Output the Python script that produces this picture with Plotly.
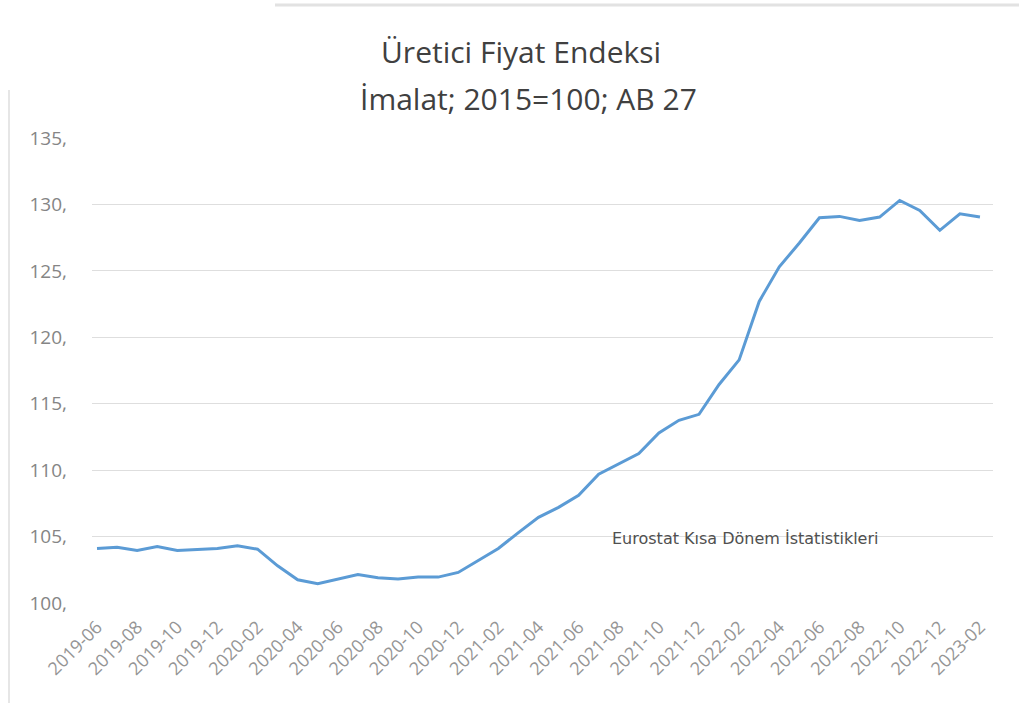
import plotly.graph_objects as go

months = ["2019-06","2019-07","2019-08","2019-09","2019-10","2019-11","2019-12",
          "2020-01","2020-02","2020-03","2020-04","2020-05","2020-06","2020-07",
          "2020-08","2020-09","2020-10","2020-11","2020-12","2021-01","2021-02",
          "2021-03","2021-04","2021-05","2021-06","2021-07","2021-08","2021-09",
          "2021-10","2021-11","2021-12","2022-01","2022-02","2022-03","2022-04",
          "2022-05","2022-06","2022-07","2022-08","2022-09","2022-10","2022-11",
          "2022-12","2023-01","2023-02"]
values = [104.1, 104.2, 103.95, 104.25, 103.95, 104.0, 104.1, 104.3, 104.05,
          102.8, 101.75, 101.45, 101.8, 102.15, 101.9, 101.8, 101.95, 101.95,
          102.3, 103.2, 104.1, 105.3, 106.45, 107.2, 108.1, 109.7, 110.45,
          111.25, 112.8, 113.75, 114.2, 116.45, 118.3, 122.7, 125.3, 127.1,
          129.0, 129.1, 128.8, 129.05, 130.3, 129.55, 128.05, 129.3, 129.05]
ytick_vals = [100, 105, 110, 115, 120, 125, 130, 135]
ytick_text = ["100,", "105,", "110,", "115,", "120,", "125,", "130,", "135,"]

xidx = list(range(len(months)))
xtick_idx = xidx[::2]
xtick_text = months[::2]

W, H = 1019, 703
ML, MR, MT, MB = 92, 26, 138, 100
pw = W - ML - MR
ph = H - MT - MB


def px2paper(px, py):
    return (px - ML) / pw, (H - MB - py) / ph


fig = go.Figure()
fig.add_trace(go.Scatter(x=xidx, y=values, mode="lines",
                         line=dict(color="#5b9bd5", width=3), hoverinfo="skip"))

font_main = "Open Sans"
t1x, t1y = px2paper(521, 52)
t2x, t2y = px2paper(528, 98)
srcx, srcy = px2paper(745, 538)

# faint screenshot frame lines
fx0, fy0 = px2paper(275, 5)
fx1, _ = px2paper(W, 5)
vx, vy0 = px2paper(9, 90)
_, vy1 = px2paper(9, H)

fig.update_layout(
    width=W, height=H,
    paper_bgcolor="white", plot_bgcolor="white",
    margin=dict(l=ML, r=MR, t=MT, b=MB),
    showlegend=False,
    xaxis=dict(range=[-0.25, 44.65], tickmode="array", tickvals=xtick_idx,
               ticktext=xtick_text, tickangle=-45, showgrid=False,
               showline=False, zeroline=False, ticks="",
               ticklabelstandoff=9,
               tickfont=dict(family=font_main, size=18, color="#959595")),
    yaxis=dict(range=[100, 135], tickmode="array", tickvals=ytick_vals,
               ticktext=ytick_text, showgrid=True, gridcolor="#dedede",
               gridwidth=1, zeroline=False, showline=False, ticks="",
               ticklabelstandoff=24,
               tickfont=dict(family=font_main, size=19, color="#858585")),
    annotations=[
        dict(text="Üretici Fiyat Endeksi", x=t1x, y=t1y, xref="paper", yref="paper",
             xanchor="center", yanchor="middle", showarrow=False,
             font=dict(family=font_main, size=30, color="#404040")),
        dict(text="İmalat; 2015=100; AB 27", x=t2x, y=t2y, xref="paper", yref="paper",
             xanchor="center", yanchor="middle", showarrow=False,
             font=dict(family=font_main, size=30, color="#404040")),
        dict(text="Eurostat Kısa Dönem İstatistikleri", x=srcx, y=srcy,
             xref="paper", yref="paper", xanchor="center", yanchor="middle",
             showarrow=False,
             font=dict(family="DejaVu Sans", size=16, color="#505050")),
    ],
    shapes=[
        dict(type="line", xref="paper", yref="paper", x0=fx0, x1=fx1, y0=fy0, y1=fy0,
             line=dict(color="#e2e2e2", width=3)),
        dict(type="line", xref="paper", yref="paper", x0=vx, x1=vx, y0=vy0, y1=vy1,
             line=dict(color="#e6e6e6", width=2)),
    ],
)

fig.write_html("out.html")
